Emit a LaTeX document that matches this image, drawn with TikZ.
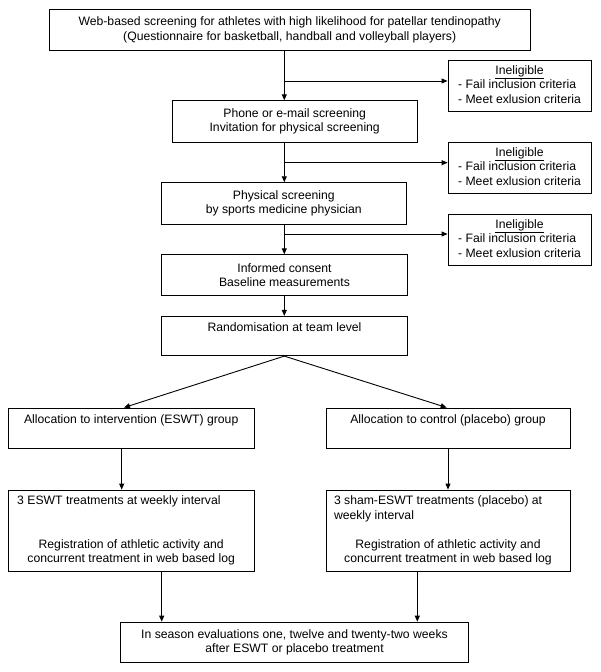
\documentclass[tikz,border=0pt]{standalone}
\usepackage{fontspec}
\setmainfont{Liberation Sans}
\usetikzlibrary{arrows.meta}
\begin{document}
\begin{tikzpicture}[x=1pt,y=-1pt,
  box/.style={draw, line width=0.8pt, inner sep=0pt, align=center, font=\fontsize{12.2}{14.5}\selectfont},
  arr/.style={line width=0.9pt, -{Triangle[length=6pt,width=5pt]}},
  inel/.style={box, minimum width=143pt, minimum height=51pt}]
\useasboundingbox (0,0) rectangle (600,672);
\node[box, minimum width=480.7pt, minimum height=40.7pt] (top) at (289.7,29.7)
  {Web-based screening for athletes with high likelihood for patellar tendinopathy\\(Questionnaire for basketball, handball and volleyball players)};
\node[box, minimum width=245.3pt, minimum height=41.6pt] (phone) at (294.7,121.5)
  {Phone or e-mail screening\\Invitation for physical screening};
\node[box, minimum width=244.3pt, minimum height=41.3pt] (phys) at (283.8,203.3)
  {Physical screening\\by sports medicine physician};
\node[box, minimum width=245.6pt, minimum height=40.6pt] (cons) at (284.5,275)
  {Informed consent\\Baseline measurements};
\node[box, minimum width=245.6pt, minimum height=39.4pt] (rand) at (284.5,336)
  {Randomisation at team level\\\strut};
\foreach \n/\y in {inelA/85.8, inelB/167.8, inelC/239.7}{
  \node[inel] (\n) at (519.5,\y)
    {\begin{tabular}{@{}l@{}}\multicolumn{1}{@{}c@{}}{\underline{Ineligible}}\\- Fail inclusion criteria\\- Meet exlusion criteria\end{tabular}};
}
\node[box, minimum width=245.7pt, minimum height=40.5pt] (allocL) at (131.2,428.2)
  {Allocation to intervention (ESWT) group\\\strut};
\node[box, minimum width=244pt, minimum height=40.5pt] (allocR) at (448,428.2)
  {Allocation to control (placebo) group\\\strut};
\node[box, minimum width=245.7pt, minimum height=81.3pt] (treatL) at (131.2,530.65)
  {\makebox[228pt][l]{3 ESWT treatments at weekly interval}\\\strut\\\strut\\Registration of athletic activity and\\concurrent treatment in web based log};
\node[box, minimum width=244pt, minimum height=81.3pt] (treatR) at (448,530.65)
  {\makebox[228pt][l]{3 sham-ESWT treatments (placebo) at}\\\makebox[228pt][l]{weekly interval}\\\strut\\Registration of athletic activity and\\concurrent treatment in web based log};
\node[box, minimum width=347.6pt, minimum height=40.3pt] (eval) at (294.5,642.2)
  {In season evaluations one, twelve and twenty-two weeks\\after ESWT or placebo treatment};
\coordinate (v) at (284.3,0);
\coordinate (bA) at (284.3,81);
\coordinate (bB) at (284.3,162.7);
\coordinate (bC) at (284.3,234);
\coordinate (dL) at (124,0);
\coordinate (dR) at (446.7,0);
\coordinate (vL) at (121.7,0);
\coordinate (eL) at (161.7,0);
\coordinate (eR) at (417.3,0);
\draw[arr] (v |- top.south) -- (v |- phone.north);
\draw[arr] (bA) -- (bA -| inelA.west);
\draw[arr] (v |- phone.south) -- (v |- phys.north);
\draw[arr] (bB) -- (bB -| inelB.west);
\draw[arr] (v |- phys.south) -- (v |- cons.north);
\draw[arr] (bC) -- (bC -| inelC.west);
\draw[arr] (v |- cons.south) -- (v |- rand.north);
\draw[arr] (v |- rand.south) -- (dL |- allocL.north);
\draw[arr] (v |- rand.south) -- (dR |- allocR.north);
\draw[arr] (vL |- allocL.south) -- (vL |- treatL.north);
\draw[arr] (allocR.south) -- (treatR.north);
\draw[arr] (eL |- treatL.south) -- (eL |- eval.north);
\draw[arr] (eR |- treatR.south) -- (eR |- eval.north);
\end{tikzpicture}
\end{document}
